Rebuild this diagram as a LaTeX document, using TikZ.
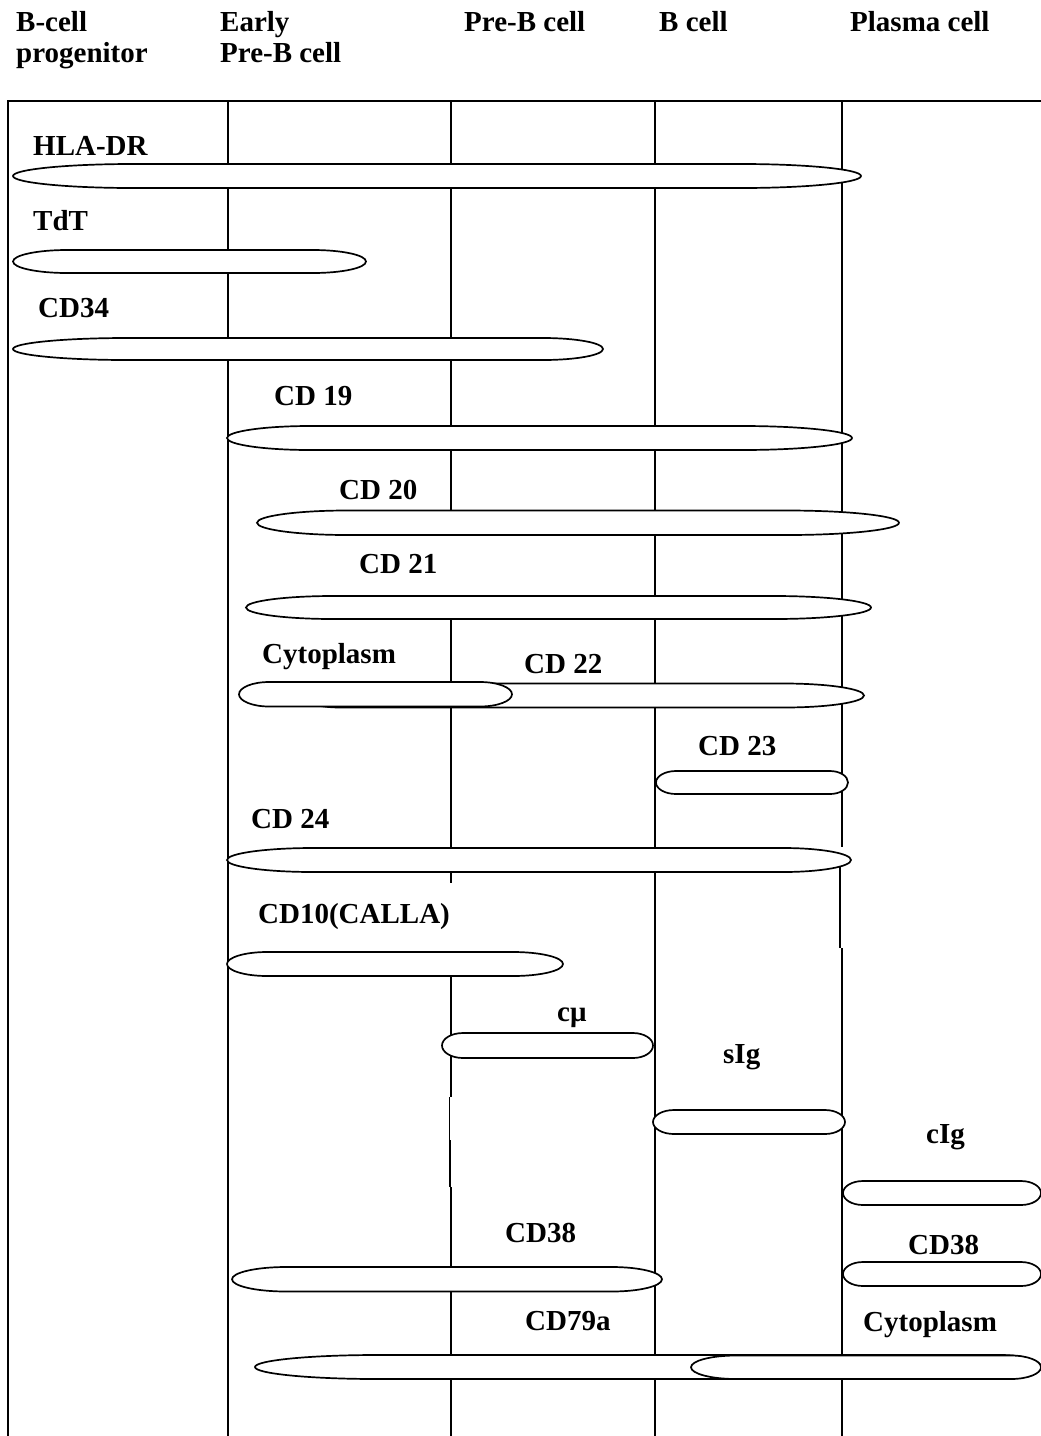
\documentclass[tikz,border=0pt]{standalone}
\usepackage{fontspec}
\setmainfont{Liberation Serif}
% x1 x2 ytop ybot leftcap rightcap
\newcommand\cellbar[6]{%
  \path[barshape] ({#1+#5},#3) -- ({#2-#6},#3)
    .. controls ({#2-0.448*#6},#3) and (#2,{#3+0.224*(#4-#3)}) .. (#2,{(#3+#4)/2})
    .. controls (#2,{#4-0.224*(#4-#3)}) and ({#2-0.448*#6},#4) .. ({#2-#6},#4)
    -- ({#1+#5},#4)
    .. controls ({#1+0.448*#5},#4) and (#1,{#4-0.224*(#4-#3)}) .. (#1,{(#3+#4)/2})
    .. controls (#1,{#3+0.224*(#4-#3)}) and ({#1+0.448*#5},#3) .. ({#1+#5},#3) -- cycle;}
\begin{document}
\begin{tikzpicture}[x=1pt,y=-1pt,
  lbl/.style={inner sep=0pt, anchor=base west, font=\fontsize{29}{30}\selectfont\bfseries},
  gridline/.style={line width=2pt},
  frameline/.style={line width=2.4pt},
  barshape/.style={draw, fill=white, line width=1.7pt}]
\useasboundingbox[fill=white] (0,0) rectangle (1041,1436);

% header
\node[lbl] (h1a) at (16,31.5) {B-cell};
\node[lbl] (h1b) at (16,62) {progenitor};
\node[lbl] (h2a) at (220,31.5) {Early};
\node[lbl] (h2b) at (220,62) {Pre-B cell};
\node[lbl] (h3) at (464,31.5) {Pre-B cell};
\node[lbl] (h4) at (659,31.5) {B cell};
\node[lbl] (h5) at (850,31.5) {Plasma cell};

% frame and column lines
\draw[frameline] (8,1436) -- (8,101) -- (1041,101);
\draw[gridline] (228,101) -- (228,1436);
\draw[gridline] (451,101) -- (451,535);
\draw[gridline] (451,619) -- (451,883);
\draw[gridline] (451,952) -- (451,1097);
\draw[line width=1.2pt] (449.5,1097) -- (449.5,1140);
\draw[gridline] (449.5,1140) -- (449.5,1187);
\draw[gridline] (451,1187) -- (451,1436);
\draw[gridline] (655,101) -- (655,1436);
\draw[gridline] (842,101) -- (842,847);
\draw[line width=1.4pt] (840,860) -- (840,948);
\draw[gridline] (842,948) -- (842,1436);

% bars
\cellbar{13}{861}{164}{188}{120}{120}
\cellbar{13}{366}{250}{273}{54}{53}
\cellbar{13}{603}{338}{360}{114}{60}
\cellbar{227}{852}{426}{450}{83}{110}
\cellbar{257}{899}{510.5}{535}{90}{112}
\cellbar{246}{871}{596}{619}{87}{97}
\cellbar{300}{864}{683.5}{707.5}{40}{80}
\cellbar{239}{512}{682}{706.5}{30}{32}
\cellbar{656}{848}{771}{794}{20}{18}
\cellbar{227}{851}{848}{872}{86}{68}
\cellbar{227}{563}{952}{976}{40}{50}
\cellbar{442}{653}{1033}{1058}{21}{20}
\cellbar{653}{845}{1110}{1134}{21}{20}
\cellbar{843}{1041}{1181}{1205}{20}{20}
\cellbar{232}{662}{1267}{1291.5}{54}{50}
\cellbar{843}{1041}{1262}{1286}{20}{20}
\cellbar{255}{1041}{1355}{1379}{122}{40}
\cellbar{691}{1041}{1355.5}{1379}{45}{30}

% labels
\node[lbl] (lHLA) at (33,155) {HLA-DR};
\node[lbl] (lTdT) at (33,230) {TdT};
\node[lbl] (l34) at (38,317.5) {CD34};
\node[lbl] (l19) at (274,405) {CD 19};
\node[lbl] (l20) at (339,499) {CD 20};
\node[lbl] (l21) at (359,573) {CD 21};
\node[lbl] (lcyt1) at (262,663) {Cytoplasm};
\node[lbl] (l22) at (524,673) {CD 22};
\node[lbl] (l23) at (698,755) {CD 23};
\node[lbl] (l24) at (251,828) {CD 24};
\node[lbl] (l10) at (258,923) {CD10(CALLA)};
\node[lbl] (lcmu) at (557,1021.5) {cμ};
\node[lbl] (lsIg) at (723,1063) {sIg};
\node[lbl] (lcIg) at (926,1143) {cIg};
\node[lbl] (l38a) at (505,1242.5) {CD38};
\node[lbl] (l38b) at (908,1254) {CD38};
\node[lbl] (l79) at (525,1330) {CD79a};
\node[lbl] (lcyt2) at (863,1331.5) {Cytoplasm};
\end{tikzpicture}
\end{document}
